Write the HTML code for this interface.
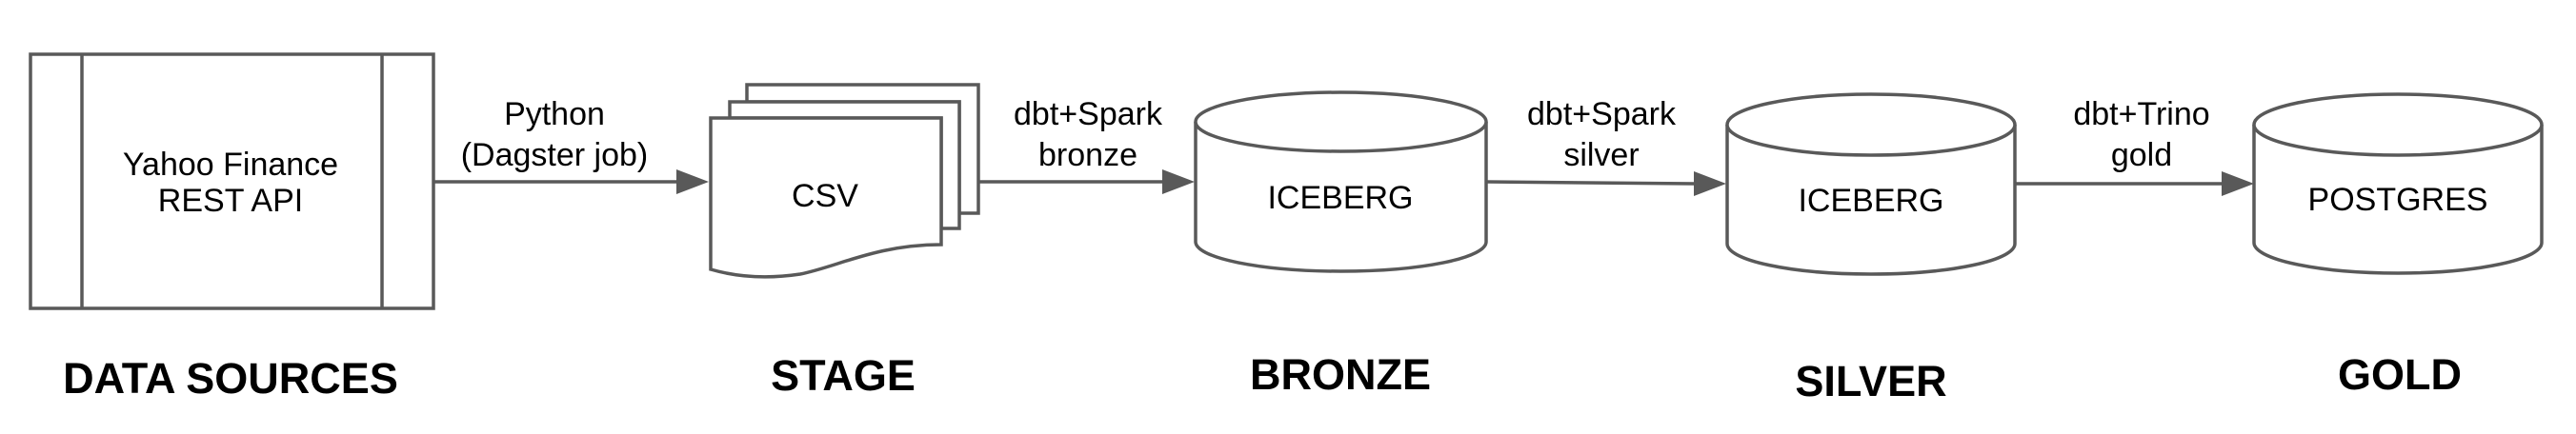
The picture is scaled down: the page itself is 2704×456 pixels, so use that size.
<!DOCTYPE html>
<html><head><meta charset="utf-8"><style>
html,body{margin:0;padding:0;background:#fff;}
svg{display:block;}
text{font-family:"Liberation Sans",Arial,sans-serif;fill:#000;}
.l{font-size:34px;text-anchor:middle;}
.b{font-size:45px;font-weight:bold;text-anchor:middle;}
</style></head><body>
<svg width="2704" height="456" viewBox="0 0 2704 456" xmlns="http://www.w3.org/2000/svg">
<g fill="#fff" stroke="#595959" stroke-width="3.5">
<rect x="32" y="57" width="423" height="267"/>
<line x1="86" y1="57" x2="86" y2="324"/>
<line x1="401" y1="57" x2="401" y2="324"/>
<path d="M784 89 H1027 V224 H1007 V107 H784 Z"/>
<path d="M766 107 H1007 V240 H988 V124 H766 Z"/>
<path d="M746 124 H988 V257 C920 257 880 280 840 288 C800 294 770 290 746 283 Z"/>
<path d="M1255 128 V254 A152.5 31 0 0 0 1560 254 V128"/>
<ellipse cx="1407.5" cy="128" rx="152.5" ry="31"/>
<path d="M1813 131 V256 A151 32 0 0 0 2115 256 V131"/>
<ellipse cx="1964" cy="131" rx="151" ry="32"/>
<path d="M2366 131 V255 A151 32 0 0 0 2668 255 V131"/>
<ellipse cx="2517" cy="131" rx="151" ry="32"/>
<line x1="455" y1="191" x2="714" y2="191"/>
<line x1="1027" y1="191" x2="1222" y2="191"/>
<line x1="1560" y1="191" x2="1780" y2="193"/>
<line x1="2115" y1="193" x2="2335" y2="193"/>
</g>
<g fill="#595959">
<polygon points="710,178 744,191 710,204"/>
<polygon points="1220,178 1254,191 1220,204"/>
<polygon points="1778,180 1812,193 1778,206"/>
<polygon points="2332,180 2366,193 2332,206"/>
</g>
<text class="l" x="242" y="184">Yahoo Finance</text>
<text class="l" x="242" y="222">REST API</text>
<text class="l" x="582" y="131">Python</text>
<text class="l" x="582" y="174">(Dagster job)</text>
<text class="l" x="866" y="217">CSV</text>
<text class="l" x="1142" y="131">dbt+Spark</text>
<text class="l" x="1142" y="174">bronze</text>
<text class="l" x="1407" y="219">ICEBERG</text>
<text class="l" x="1681" y="131">dbt+Spark</text>
<text class="l" x="1681" y="174">silver</text>
<text class="l" x="1964" y="222">ICEBERG</text>
<text class="l" x="2248" y="131">dbt+Trino</text>
<text class="l" x="2248" y="174">gold</text>
<text class="l" x="2517" y="221">POSTGRES</text>
<text class="b" x="242" y="413">DATA SOURCES</text>
<text class="b" x="885" y="410">STAGE</text>
<text class="b" x="1407" y="409">BRONZE</text>
<text class="b" x="1964" y="416">SILVER</text>
<text class="b" x="2519" y="409">GOLD</text>
</svg>
</body></html>
